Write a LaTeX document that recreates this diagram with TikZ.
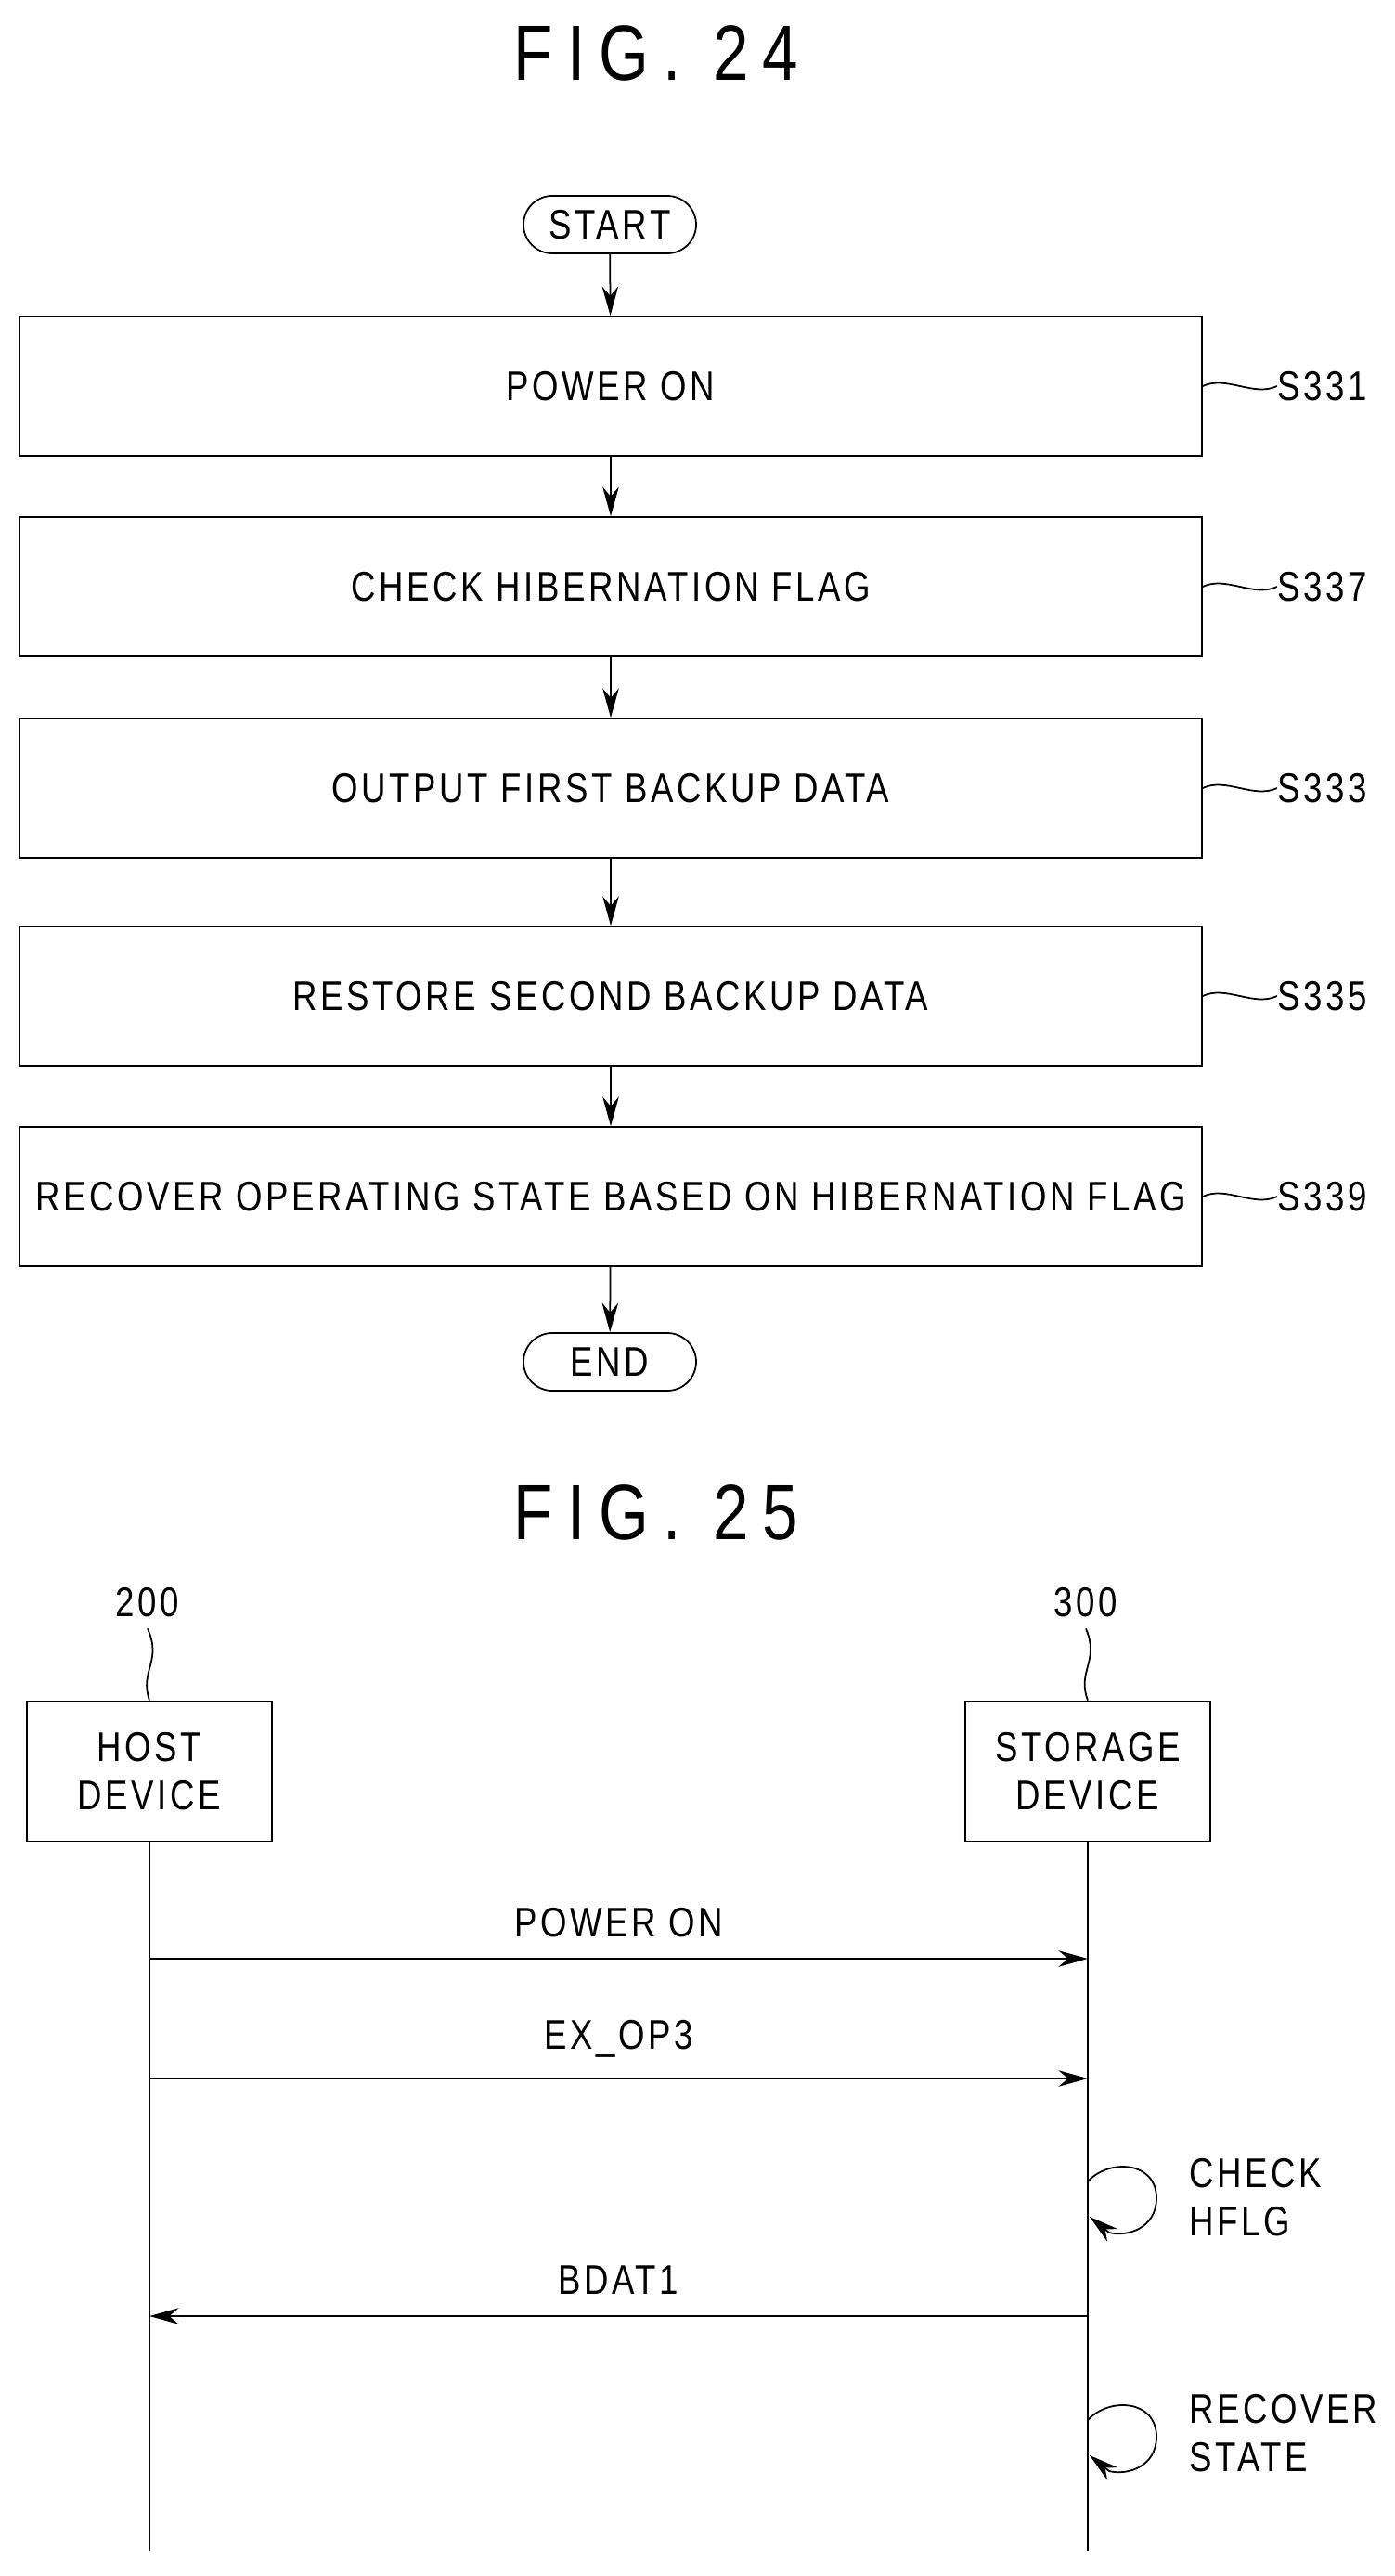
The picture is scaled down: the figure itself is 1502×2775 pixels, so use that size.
\documentclass[tikz,border=0pt]{standalone}
\usepackage{fontspec}
\setmainfont{Liberation Sans}[FakeStretch=0.82,LetterSpace=8]
\newfontfamily\titlefont{Liberation Sans}[FakeStretch=0.82,LetterSpace=18]
\usetikzlibrary{arrows.meta}
\begin{document}
\begin{tikzpicture}[x=0.1mm,y=-0.1mm,line width=0.5pt,
  txt/.style={font=\fontsize{12.7pt}{15pt}\selectfont},
  ttl/.style={font=\titlefont\fontsize{24pt}{28pt}\selectfont},
  box/.style={draw,minimum width=1274*0.1mm,minimum height=150*0.1mm,txt,inner sep=0},
  term/.style={draw,rounded corners=31*0.1mm,minimum width=186*0.1mm,minimum height=62*0.1mm,txt,inner sep=0},
  arr/.style={-{Stealth[length=9pt,width=5pt]}},
  lbl/.style={txt,anchor=west,inner sep=0},
  actor/.style={draw,txt,align=center,minimum width=264*0.1mm,minimum height=151*0.1mm,inner sep=0}]
\useasboundingbox (0,0) rectangle (1502,2775);
\node[ttl] (t24) at (707,57) {FIG. 24};
\node[term] (start) at (657,242) {START};
\node[box] (b1) at (658,416) {POWER ON};
\node[box] (b2) at (658,632) {CHECK HIBERNATION FLAG};
\node[box] (b3) at (658,849) {OUTPUT FIRST BACKUP DATA};
\node[box] (b4) at (658,1073) {RESTORE SECOND BACKUP DATA};
\node[box] (b5) at (658,1289) {RECOVER OPERATING STATE BASED ON HIBERNATION FLAG};
\node[term] (end) at (657,1467) {END};
\draw[arr] (start) -- (b1);
\draw[arr] (b1) -- (b2);
\draw[arr] (b2) -- (b3);
\draw[arr] (b3) -- (b4);
\draw[arr] (b4) -- (b5);
\draw[arr] (b5) -- (end);
\foreach \b/\s in {b1/S331,b2/S337,b3/S333,b4/S335,b5/S339}{
  \node[lbl] (l\b) at ([xshift=80*0.1mm]\b.east) {\s};
  \draw (\b.east) .. controls +(25,-12) and +(-25,12) .. (l\b.west);
}
\node[ttl] (t25) at (707,1629) {FIG. 25};
\node[actor] (host) at (161,1908) {HOST\\DEVICE};
\node[actor] (stor) at (1172,1908) {STORAGE\\DEVICE};
\node[txt] (n200) at (159,1726) {200};
\node[txt] (n300) at (1170,1726) {300};
\draw (host.north) .. controls (150,1800) and (175,1790) .. (n200.south);
\draw (stor.north) .. controls (1160,1800) and (1185,1790) .. (n300.south);
\coordinate (hend) at (161,2748);
\coordinate (send) at (1172,2748);
\draw (host.south) -- (hend);
\draw (stor.south) -- (send);
\coordinate (h1) at (161,2110); \coordinate (s1) at (1172,2110);
\coordinate (h2) at (161,2239); \coordinate (s2) at (1172,2239);
\coordinate (h3) at (161,2495); \coordinate (s3) at (1172,2495);
\draw[arr] (h1) -- node[txt,above=3pt] {POWER ON} (s1);
\draw[arr] (h2) -- node[txt,above=3pt] {EX\_OP3} (s2);
\draw[arr] (s3) -- node[txt,above=3pt] {BDAT1} (h3);
\coordinate (c1a) at (1172,2350); \coordinate (c1b) at (1174,2388);
\coordinate (c2a) at (1172,2607); \coordinate (c2b) at (1174,2645);
\draw[arr] (c1a) .. controls (1195,2325) and (1246,2328) .. (1246,2368) .. controls (1246,2400) and (1215,2410) .. (1195,2405) -- (c1b);
\draw[arr] (c2a) .. controls (1195,2582) and (1246,2585) .. (1246,2625) .. controls (1246,2657) and (1215,2667) .. (1195,2662) -- (c2b);
\node[txt,align=left,anchor=west,inner sep=0] (chk) at (1281,2367) {CHECK\\HFLG};
\node[txt,align=left,anchor=west,inner sep=0] (rec) at (1281,2621) {RECOVER\\STATE};
\end{tikzpicture}
\end{document}
